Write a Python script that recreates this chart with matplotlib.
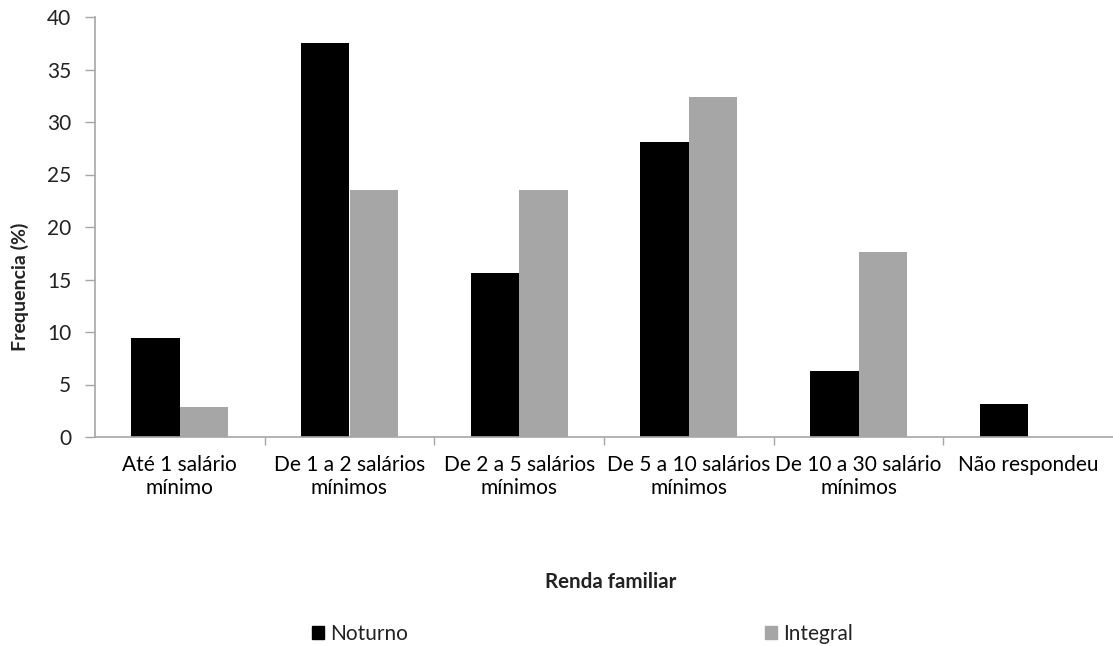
import numpy as np
import matplotlib.pyplot as plt
from matplotlib.patches import Patch
from matplotlib.ticker import MultipleLocator, FixedLocator

OUT_FILE = 'out.png'

CATEGORIES = ['Até 1 salário\nmínimo', 'De 1 a 2 salários\nmínimos',
              'De 2 a 5 salários\nmínimos', 'De 5 a 10 salários\nmínimos',
              'De 10 a 30 salário\nmínimos', 'Não respondeu']
NOTURNO = [9.4, 37.5, 15.6, 28.1, 6.25, 3.1]
INTEGRAL = [2.9, 23.5, 23.5, 32.4, 17.6, 0.0]
SERIES_NAMES = ['Noturno', 'Integral']
COLORS = ['#000000', '#a6a6a6']
AXIS_GRAY = '#a6a6a6'

plt.rcParams['font.family'] = ['Lato', 'DejaVu Sans']
plt.rcParams['text.color'] = '#222222'

fig = plt.figure(figsize=(11.13, 6.46), dpi=100)
ax = fig.add_axes([95 / 1113, 1 - 437 / 646, 1 - 95 / 1113, (437 - 17) / 646])

x = np.arange(len(CATEGORIES))
w = 0.285
ax.bar(x - w / 2, NOTURNO, w, color=COLORS[0], label=SERIES_NAMES[0])
ax.bar(x + w / 2, INTEGRAL, w, color=COLORS[1], label=SERIES_NAMES[1])

ax.set_xlim(-0.5, len(CATEGORIES) - 0.5)
ax.set_ylim(0, 40)
ax.yaxis.set_major_locator(MultipleLocator(5))

# category labels sit between the boundary ticks
ax.set_xticks(x)
ax.set_xticklabels(CATEGORIES, fontsize=15, linespacing=1.2)
ax.tick_params(axis='x', length=0, pad=13)
ax.xaxis.set_minor_locator(FixedLocator(np.arange(0.5, len(CATEGORIES) - 0.5, 1)))
ax.tick_params(axis='x', which='minor', length=6, color=AXIS_GRAY, width=1)
ax.tick_params(axis='y', length=7, color=AXIS_GRAY, width=1, labelsize=15,
               labelcolor='#222222', pad=10)

for side in ['top', 'right']:
    ax.spines[side].set_visible(False)
for side in ['left', 'bottom']:
    ax.spines[side].set_color(AXIS_GRAY)
    ax.spines[side].set_linewidth(1.2)

fig.text(20 / 1113, 1 - 287 / 646, 'Frequencia (%)', rotation=90,
         ha='center', va='center', fontsize=14, fontweight='bold')
fig.text(611 / 1113, 1 - 582 / 646, 'Renda familiar', ha='center',
         va='center', fontsize=14.8, fontweight='bold')

handles = [Patch(color=c) for c in COLORS]
fig.legend(handles, SERIES_NAMES, loc='center left',
           bbox_to_anchor=(293 / 1113, 1 - 634 / 646), ncol=2, frameon=False,
           fontsize=15, handlelength=0.6, handleheight=0.6, handletextpad=0.3,
           columnspacing=17.1)

plt.savefig(OUT_FILE, dpi=100)
